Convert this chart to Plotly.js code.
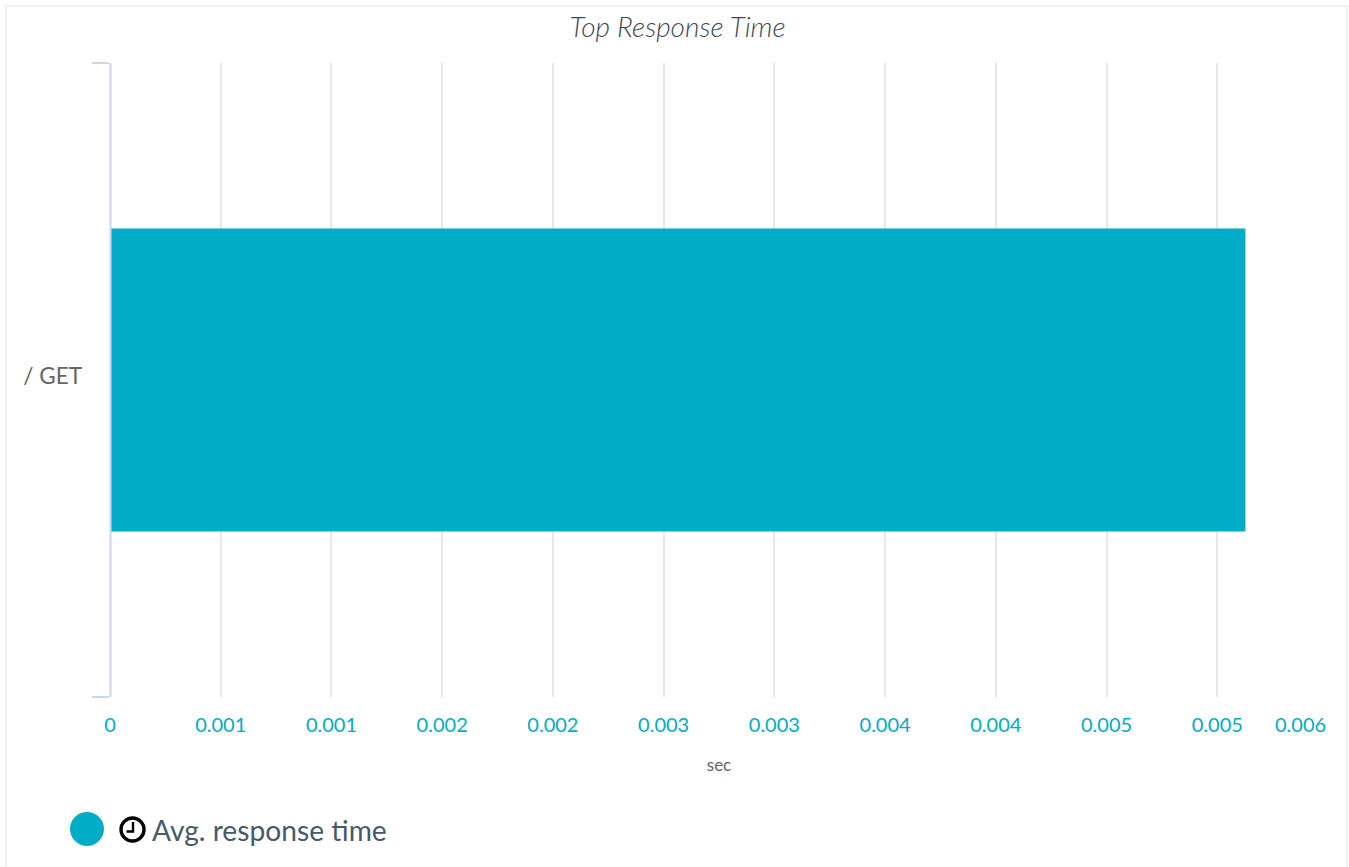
<!DOCTYPE html>
<html>
<head>
<meta charset="utf-8">
<script src="https://cdn.plot.ly/plotly-3.0.1.min.js"></script>
<style>
html,body{margin:0;padding:0;background:#fff;overflow:hidden}
#frame{position:absolute;left:5px;top:5px;width:1339px;height:900px;border:2.5px solid #f1f1f1;box-sizing:content-box}
#chart{position:absolute;left:0;top:0;width:1349px;height:867px}
</style>
</head>
<body>
<div id="frame"></div>
<div id="chart"></div>
<script>
const categories = ['/ GET'];
const avgResponse = [0.005127];
const seriesName = 'Avg. response time';
const tickValues = [0,0.0005,0.001,0.0015,0.002,0.0025,0.003,0.0035,0.004,0.0045,0.005,0.0055];
const tickLabels = ['0','0.001','0.001','0.002','0.002','0.003','0.003','0.004','0.004','0.005','0.005',''];
const lastTickLabel = '0.006';
const FONT = 'Lato, "Noto Sans", sans-serif';
const TEAL = '#00acc6';

const W=1349,H=867;
const ML=110, MR=21.3, MT=63, MB=170;
const PW=W-ML-MR, PH=H-MT-MB;
function px(x){return (x-ML)/PW;}
function py(y){return (H-MB-y)/PH;}

Plotly.newPlot('chart',[{
  type:'bar',orientation:'h',y:categories,x:avgResponse,name:seriesName,
  marker:{color:TEAL,line:{width:0}},showlegend:false,hoverinfo:'x+y'
}],{
  width:W,height:H,
  paper_bgcolor:'rgba(0,0,0,0)',plot_bgcolor:'rgba(0,0,0,0)',
  margin:{l:ML,r:MR,t:MT,b:MB,pad:0},
  bargap:0.522,
  font:{family:FONT},
  title:{text:'Top Response Time',x:677.5/W,xanchor:'center',y:1-27/H,yanchor:'middle',
    font:{family:FONT,size:28,weight:300,color:'#3e4a56',style:'italic'}},
  xaxis:{range:[0,0.0055],tickmode:'array',tickvals:tickValues,ticktext:tickLabels,
    showgrid:true,gridcolor:'#e8e8e8',gridwidth:2,zeroline:false,showline:false,ticks:'',
    tickfont:{family:FONT,size:20,color:TEAL},ticklabelstandoff:14,
    title:{text:'sec',font:{family:FONT,size:17,color:'#666666'},standoff:24}},
  yaxis:{type:'category',range:[-0.5,0.5],showgrid:false,zeroline:false,
    showline:false,
    ticks:'',ticklabelstandoff:27,ticklabelshift:-4,
    tickfont:{family:FONT,size:22.5,color:'#666666'},
    minor:{tickmode:'array',tickvals:[-0.5,0.5],ticks:'outside',ticklen:17,tickwidth:2,tickcolor:'#ccd6eb',showgrid:false}},
  annotations:[
    {xref:'x',x:0.0055,yref:'paper',y:py(724),xanchor:'right',yanchor:'middle',showarrow:false,
      text:lastTickLabel,font:{family:FONT,size:20,color:TEAL}},
    {xref:'paper',x:px(150),yref:'paper',y:py(830),xanchor:'left',yanchor:'middle',showarrow:false,
      text:seriesName,font:{family:FONT,size:28.2,color:'#485a68'}}
  ],
  shapes:[
    {type:'line',xref:'paper',yref:'paper',x0:px(110.5),x1:px(110.5),y0:0,y1:1,line:{width:2,color:'#ccd6eb'}},
    {type:'circle',xref:'paper',yref:'paper',x0:px(70),x1:px(104),y0:py(846),y1:py(812),fillcolor:TEAL,line:{width:0}},
    {type:'circle',xref:'paper',yref:'paper',x0:px(121),x1:px(144),y0:py(841),y1:py(818),fillcolor:'#ffffff',line:{width:3.4,color:'#000000'}},
    {type:'path',xref:'paper',yref:'paper',
      path:`M ${px(133)} ${py(822)} L ${px(133)} ${py(831.5)} L ${px(126.5)} ${py(831.5)}`,
      line:{width:2.4,color:'#000000'}}
  ]
},{displayModeBar:false,responsive:false});
</script>
</body>
</html>
